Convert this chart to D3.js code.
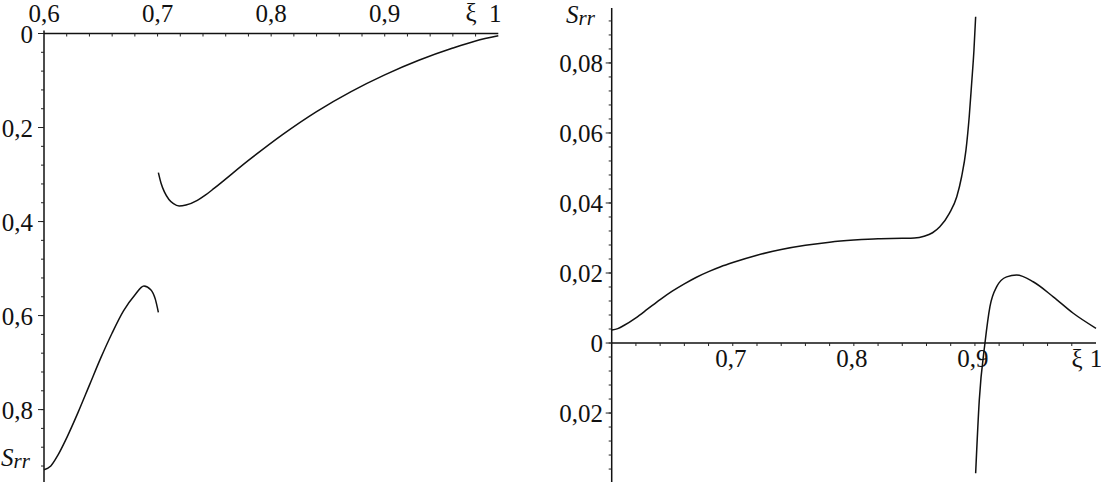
<!DOCTYPE html>
<html>
<head>
<meta charset="utf-8">
<script src="https://cdn.jsdelivr.net/npm/d3@7/dist/d3.min.js"></script>
<style>
  body { margin: 0; background: #fff; }
  svg { display: block; }
</style>
</head>
<body>
<svg width="1101" height="482" font-family="'Liberation Serif', 'DejaVu Serif', serif"></svg>
<script>
var svg = d3.select("svg");

// left panel: S_rr (axis pointing down) against xi
var leftLowXi  = [0.600, 0.606, 0.612, 0.620, 0.630, 0.640, 0.650, 0.660, 0.670, 0.680, 0.688, 0.694, 0.698, 0.7007];
var leftLowS   = [0.928, 0.920, 0.898, 0.860, 0.806, 0.748, 0.690, 0.637, 0.590, 0.556, 0.537, 0.545, 0.565, 0.593];
var leftHighXi = [0.7007, 0.703, 0.706, 0.710, 0.714, 0.719, 0.725, 0.735, 0.742, 0.750, 0.780, 0.810, 0.840, 0.870, 0.900, 0.930, 0.960, 0.980, 1.0];
var leftHighS  = [0.296, 0.318, 0.337, 0.353, 0.362, 0.367, 0.365, 0.355, 0.344, 0.329, 0.270, 0.215, 0.166, 0.124, 0.088, 0.057, 0.031, 0.016, 0.005];

// right panel
var rightUpXi = [0.600, 0.605, 0.610, 0.620, 0.630, 0.640, 0.650, 0.660, 0.670, 0.680, 0.690, 0.700, 0.720, 0.740, 0.760, 0.780, 0.800, 0.820, 0.840,
                 0.850, 0.858, 0.865, 0.871, 0.879, 0.885, 0.889, 0.8926, 0.8953, 0.8973, 0.8992, 0.9006];
var rightUpS  = [0.0037, 0.0041, 0.0050, 0.0072, 0.0098, 0.0124, 0.0148, 0.0169, 0.0188, 0.0204, 0.0218, 0.0230, 0.0251, 0.0267, 0.0279, 0.0288, 0.0294, 0.0298, 0.0299,
                 0.0300, 0.0305, 0.0315, 0.0332, 0.0371, 0.0418, 0.0475, 0.0551, 0.0647, 0.0742, 0.0837, 0.0932];
var rightLowXi = [0.9006, 0.9036, 0.9083, 0.9124, 0.918, 0.9262, 0.9344, 0.9481, 0.9647, 0.9812, 1.0];
var rightLowS  = [-0.0372, -0.0163, 0.0, 0.0104, 0.0161, 0.0189, 0.0194, 0.0175, 0.0132, 0.0085, 0.0042];

var leftXTicks = [0.6, 0.7, 0.8, 0.9, 1];
var leftXLabels = ["0,6", "0,7", "0,8", "0,9", "1"];
var leftYTicks = [0, 0.2, 0.4, 0.6, 0.8];
var leftYLabels = ["0", "0,2", "0,4", "0,6", "0,8"];
var rightXTicks = [0.7, 0.8, 0.9, 1];
var rightXLabels = ["0,7", "0,8", "0,9", "1"];
var rightYTicks = [-0.02, 0, 0.02, 0.04, 0.06, 0.08];
var rightYLabels = ["0,02", "0", "0,02", "0,04", "0,06", "0,08"];

var xL = d3.scaleLinear().domain([0.6, 1]).range([44, 498.3]);
var yL = d3.scaleLinear().domain([0, 0.954]).range([33.5, 482]);
var xR = d3.scaleLinear().domain([0.6, 1]).range([611.7, 1096]);
var yR = d3.scaleLinear().domain([-0.0397, 0.0957]).range([482, 8]);

function zip(a, b) {
    return a.map(function (d, i) { return [d, b[i]]; });
}

function drawCurve(x, y, xs, ys) {
    var line = d3.line()
        .x(function (d) { return x(d[0]); })
        .y(function (d) { return y(d[1]); })
        .curve(d3.curveMonotoneX);
    svg.append("path")
        .attr("d", line(zip(xs, ys)))
        .attr("fill", "none")
        .attr("stroke", "#111")
        .attr("stroke-width", 1.5);
}

function seq(a, b, step) {
    var out = [];
    for (var v = a; v <= b + 1e-9; v += step) out.push(+v.toFixed(4));
    return out;
}

function axisLine(x1, y1, x2, y2) {
    svg.append("line")
        .attr("x1", x1).attr("y1", y1).attr("x2", x2).attr("y2", y2)
        .attr("stroke", "#111").attr("stroke-width", 1.5);
}

function hTicks(x, yPos, vals, len) {
    svg.append("g").selectAll("line").data(vals).enter().append("line")
        .attr("x1", function (d) { return x(d); })
        .attr("x2", function (d) { return x(d); })
        .attr("y1", yPos).attr("y2", yPos + len)
        .attr("stroke", "#222").attr("stroke-width", 1);
}

function vTicks(y, xPos, vals, len) {
    svg.append("g").selectAll("line").data(vals).enter().append("line")
        .attr("y1", function (d) { return y(d); })
        .attr("y2", function (d) { return y(d); })
        .attr("x1", xPos).attr("x2", xPos - len)
        .attr("stroke", "#222").attr("stroke-width", 1);
}

function labels(vals, txt, fx, fy, anchor) {
    svg.append("g").selectAll("text").data(vals).enter().append("text")
        .attr("x", fx)
        .attr("y", fy)
        .attr("text-anchor", anchor)
        .attr("font-family", "Liberation Serif")
        .attr("font-size", 25)
        .attr("fill", "#111")
        .text(function (d, i) { return txt[i]; });
}

function srrLabel(x, y) {
    var t = svg.append("text").attr("x", x).attr("y", y)
        .attr("font-family", "Liberation Serif")
        .attr("font-size", 25).attr("font-style", "italic").attr("fill", "#111");
    t.append("tspan").text("S");
    t.append("tspan").attr("font-size", 21).attr("dy", 2).text("rr");
}

// ---- left panel ----
axisLine(xL(0.6), yL(0), xL(1), yL(0));
axisLine(xL(0.6), yL(0) - 3, xL(0.6), 482);
hTicks(xL, yL(0), seq(0.62, 0.98, 0.02), 3);
vTicks(yL, xL(0.6), seq(0.04, 0.92, 0.04), 3);
vTicks(yL, xL(0.6), leftYTicks, 6);
labels(leftXTicks, leftXLabels, function (d) { return xL(d) + (d === 1 ? -3 : 0); }, 22, "middle");
labels(leftYTicks, leftYLabels, 33, function (d) { return yL(d) + 9; }, "end");
labels([1], ["ξ"], 471, 21, "middle");
srrLabel(1, 466);

drawCurve(xL, yL, leftLowXi, leftLowS);
drawCurve(xL, yL, leftHighXi, leftHighS);

// ---- right panel ----
axisLine(xR(0.6), yR(0), xR(1), yR(0));
axisLine(xR(0.6), 8, xR(0.6), 482);
hTicks(xR, yR(0), seq(0.62, 0.98, 0.02), 3);
vTicks(yR, xR(0.6), seq(-0.036, 0.092, 0.004), 3);
vTicks(yR, xR(0.6), rightYTicks, 6);
labels(rightXTicks, rightXLabels, function (d) { return xR(d) + (d === 1 ? 0 : -2); }, yR(0) + 24, "middle");
labels(rightYTicks, rightYLabels, 603, function (d) { return yR(d) + 9; }, "end");
labels([1], ["ξ"], 1077, yR(0) + 24, "middle");
srrLabel(566, 23);

drawCurve(xR, yR, rightUpXi, rightUpS);
drawCurve(xR, yR, rightLowXi, rightLowS);
</script>
</body>
</html>
